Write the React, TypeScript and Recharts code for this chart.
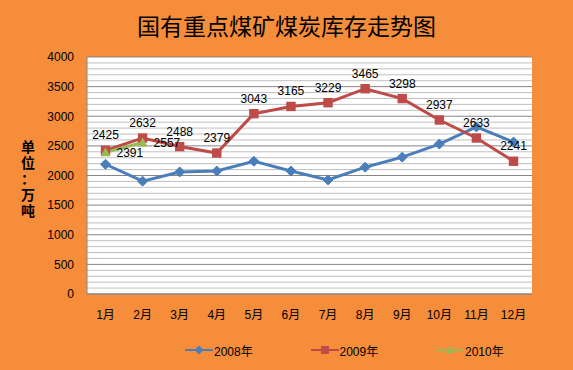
import { LineChart, Line, XAxis, YAxis, CartesianGrid, LabelList, Legend } from "recharts";

const months = ["1月", "2月", "3月", "4月", "5月", "6月", "7月", "8月", "9月", "10月", "11月", "12月"];
const stock2008 = [2190, 1905, 2060, 2075, 2240, 2075, 1925, 2140, 2310, 2530, 2820, 2565];
const stock2009 = [2425, 2632, 2488, 2379, 3043, 3165, 3229, 3465, 3298, 2937, 2633, 2241];
const stock2010 = [2391, 2557];
const yTicks = Array.from({ length: 41 }, (_, i) => i * 100);
const unitChars = ["单", "位", "：", "万", "吨"];

const BLUE = "#4A7EBB";
const RED = "#BE4B48";
const GREEN = "#98B954";
const BG = "#F58D3A";
const FONT = "'Liberation Sans', 'Noto Sans CJK SC', sans-serif";

const data = months.map((m, i) => ({
  month: m,
  y2008: stock2008[i],
  y2009: stock2009[i],
  y2010: i < stock2010.length ? stock2010[i] : null,
}));

const diamond = (cx: number, cy: number, r: number, color: string, key?: any) => (
  <path key={key} d={`M${cx},${cy - r} L${cx + r},${cy} L${cx},${cy + r} L${cx - r},${cy} Z`} fill={color} stroke={color} />
);
const square = (cx: number, cy: number, r: number, color: string, key?: any) => (
  <rect key={key} x={cx - r} y={cy - r} width={r * 2} height={r * 2} fill={color} />
);
const triangle = (cx: number, cy: number, r: number, color: string, key?: any) => (
  <path key={key} d={`M${cx},${cy - r} L${cx + r},${cy + r * 0.8} L${cx - r},${cy + r * 0.8} Z`} fill={color} />
);

const legendItems = [
  { name: "2008年", color: BLUE, shape: diamond },
  { name: "2009年", color: RED, shape: square },
  { name: "2010年", color: GREEN, shape: triangle },
];

function LegendContent() {
  return (
    <div style={{ position: "relative", height: 20, width: 573, fontFamily: FONT, fontSize: 12 }}>
      {legendItems.map((it, i) => (
        <div key={it.name} style={{ position: "absolute", left: 185 + i * 125.5, top: 0, display: "flex", alignItems: "center", height: 20 }}>
          <svg width={28} height={12}>
            <line x1={0} y1={6} x2={28} y2={6} stroke={it.color} strokeWidth={2} />
            {it.shape(14, 6, 4, it.color)}
          </svg>
          <span style={{ marginLeft: 1, color: "#000" }}>{it.name}</span>
        </div>
      ))}
    </div>
  );
}

function UnitLabel(props: any) {
  const vb = props.viewBox || {};
  const cy = vb.y + vb.height / 2 + 3;
  return (
    <g>
      {unitChars.map((c, i) => (
        <text key={i} x={28} y={cy + (i - 2) * 16} textAnchor="middle" dominantBaseline="central"
          fontSize={14} fontWeight="bold" fontFamily={FONT} fill="#000">{c}</text>
      ))}
    </g>
  );
}

function GridLine(p: any) {
  const v = Math.round(4000 * (294 - p.y1) / 237);
  const major = Math.round(v / 100) % 5 === 0;
  return <line x1={p.x1} y1={p.y1} x2={p.x2} y2={p.y2} stroke={major ? "#868686" : "#BFBFBF"} strokeWidth={1} />;
}

export default function App() {
  return (
    <div style={{ position: "absolute", left: 0, top: 0, width: 573, height: 370, background: BG }}>
      <div style={{ position: "absolute", top: 12, left: 0, width: 573, textAlign: "center", fontSize: 23, lineHeight: "26px", fontFamily: "'Noto Sans CJK SC', sans-serif", color: "#000" }}>
        国有重点煤矿煤炭库存走势图
      </div>
      <LineChart width={573} height={370} data={data} margin={{ top: 57, right: 41, left: 0, bottom: 26 }}>
        <CartesianGrid vertical={false} fill="#fff" fillOpacity={1} horizontal={GridLine} />
        <XAxis dataKey="month" tickLine={false} axisLine={{ stroke: "#868686" }} height={30} tickMargin={10}
          padding={{ left: 18.5, right: 18.5 }}
          tick={{ fontSize: 12, fill: "#000", fontFamily: FONT }} />
        <YAxis domain={[0, 4000]} ticks={yTicks} interval={0} width={87} tickLine={false} tickSize={0} tickMargin={13}
          axisLine={{ stroke: "#868686" }}
          tickFormatter={(v: number) => (v % 500 === 0 ? String(v) : "")}
          tick={{ fontSize: 12, fill: "#000", fontFamily: FONT }}
          label={{ content: UnitLabel }} />
        <Legend verticalAlign="bottom" wrapperStyle={{ top: 340, left: 0 }} content={LegendContent} />
        <Line type="linear" dataKey="y2008" name="2008年" stroke={BLUE} strokeWidth={3} isAnimationActive={false}
          dot={(p: any) => diamond(p.cx, p.cy, 5, BLUE, `d8-${p.index}`)} activeDot={false} />
        <Line type="linear" dataKey="y2009" name="2009年" stroke={RED} strokeWidth={3} isAnimationActive={false}
          dot={(p: any) => square(p.cx, p.cy, 4.7, RED, `d9-${p.index}`)} activeDot={false}>
          <LabelList dataKey="y2009" position="top" offset={11} fontSize={12} fill="#000" fontFamily={FONT} />
        </Line>
        <Line type="linear" dataKey="y2010" name="2010年" stroke={GREEN} strokeWidth={3} isAnimationActive={false}
          dot={(p: any) => (p.cy == null ? <g key={`d10-${p.index}`} /> : triangle(p.cx, p.cy, 5, GREEN, `d10-${p.index}`))} activeDot={false}>
          <LabelList dataKey="y2010" position="right" offset={11} fontSize={12} fill="#000" fontFamily={FONT} />
        </Line>
      </LineChart>
    </div>
  );
}
